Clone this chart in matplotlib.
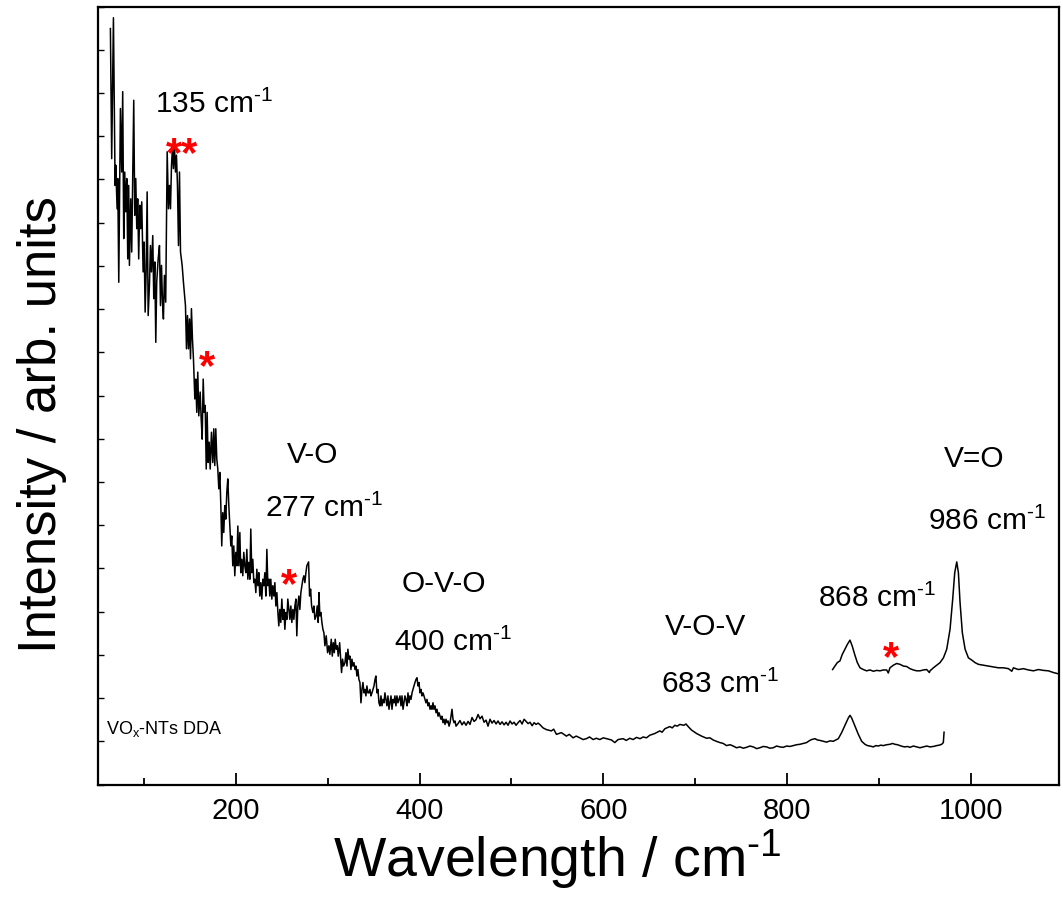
import numpy as np
import matplotlib
matplotlib.use("Agg")
import matplotlib.pyplot as plt
from matplotlib.ticker import MultipleLocator, NullFormatter

plt.rcParams['font.family'] = ['Liberation Sans', 'DejaVu Sans']
plt.rcParams['mathtext.fontset'] = 'custom'
plt.rcParams['mathtext.rm'] = 'Liberation Sans'
plt.rcParams['mathtext.it'] = 'Liberation Sans:italic'
plt.rcParams['mathtext.bf'] = 'Liberation Sans:bold'

# ---- data: (wavenumber cm^-1, intensity arb. units) ----
main_lowfreq = [
    (63.5, 1749), (64.9, 1448), (66.8, 1774), (68.6, 1386), (69.3, 1433), (70.8, 1332),
    (71.5, 1402), (72.6, 1162), (74.4, 1564), (75.8, 1417), (76.9, 1603), (78.0, 1263),
    (79.1, 1417), (80.2, 1325), (81.3, 1402), (82.4, 1216), (83.4, 1386), (84.2, 1201),
    (85.6, 1355), (86.7, 1232), (88.9, 1583), (90.0, 1317), (91.1, 1402), (92.2, 1286),
    (93.2, 1355), (94.3, 1216), (95.4, 1340), (96.5, 1286), (97.6, 1348), (99.1, 1186),
    (100.2, 1255), (101.3, 1093), (102.4, 1186), (103.5, 1371), (104.6, 1085), (106.0, 1155),
    (107.1, 1247), (108.2, 1186), (109.6, 1270), (110.7, 1124), (111.8, 1209), (112.9, 1023),
    (113.9, 1162), (115.5, 1216), (116.9, 1247), (118.0, 1108), (119.1, 1201), (120.2, 1116),
    (121.2, 1077), (122.3, 1178), (123.7, 1116), (125.3, 1464), (126.7, 1332), (127.8, 1386),
    (128.9, 1332), (130.0, 1433), (131.0, 1471), (132.1, 1425), (133.2, 1479), (134.3, 1417),
    (135.4, 1456), (136.5, 1386), (137.6, 1247), (138.7, 1417), (139.8, 1232), (141.6, 1201),
    (143.0, 1162), (145.2, 1108), (146.3, 1008), (147.4, 1085), (148.5, 1008), (149.6, 1077),
    (150.7, 985), (151.7, 1101), (152.8, 1031), (153.9, 985),
]
main_vo_region = [
    (155.4, 892), (156.4, 938), (157.5, 861), (158.6, 954), (159.7, 853), (161.2, 908),
    (162.3, 846), (163.4, 799), (164.5, 938), (165.6, 861), (166.7, 877), (167.8, 730),
    (168.8, 861), (169.9, 745), (171.0, 792), (172.1, 730), (173.5, 815), (174.9, 745),
    (176.0, 823), (177.1, 738), (178.2, 823), (179.3, 753), (180.4, 730), (181.5, 684),
    (182.6, 722), (183.7, 645), (184.7, 552), (185.8, 629), (186.9, 583), (188.0, 645),
    (189.1, 614), (190.2, 676), (191.3, 707), (192.4, 645), (193.5, 598), (194.6, 552),
    (195.6, 575), (196.7, 506), (197.8, 552), (198.9, 483), (200.0, 537), (201.1, 506),
    (202.2, 598), (203.3, 506), (204.4, 583), (205.4, 490), (206.5, 521), (207.6, 483),
    (208.7, 537), (209.8, 506), (210.9, 490), (212.0, 544), (213.1, 475), (214.2, 514),
    (215.3, 475), (216.3, 591), (217.4, 490), (218.5, 521), (219.6, 467), (220.7, 475),
    (221.8, 444), (222.9, 498), (224.0, 460), (225.1, 490), (226.1, 436), (227.2, 467),
    (228.3, 429), (229.4, 475), (230.5, 460), (231.6, 490), (232.7, 436), (233.8, 544),
    (234.9, 460), (236.0, 475), (237.0, 436), (238.1, 475), (239.2, 429), (240.3, 460),
    (241.4, 436), (242.5, 467), (243.6, 413), (244.7, 444), (245.8, 398), (246.8, 367),
    (247.9, 405), (249.0, 375), (250.1, 429), (251.2, 382), (252.3, 405), (253.4, 359),
    (254.5, 398), (255.6, 382), (256.6, 429), (257.7, 405), (258.8, 382), (259.9, 413),
    (261.0, 375), (262.1, 405), (263.2, 382), (264.3, 413), (265.4, 429), (266.4, 344),
    (267.5, 413), (268.6, 436), (269.7, 405), (270.8, 444), (271.9, 460), (273.0, 475),
    (274.1, 483), (275.2, 467), (276.3, 490), (277.3, 506),
]
main_ovo_region = [
    (279.2, 515), (280.3, 436), (281.4, 452), (282.5, 413), (283.9, 398), (285.0, 413),
    (286.1, 382), (287.5, 390), (288.6, 413), (289.7, 375), (290.5, 444), (291.5, 390),
    (292.6, 398), (293.7, 375), (294.8, 359), (295.9, 351), (297.0, 321), (298.4, 344),
    (299.9, 305), (301.3, 321), (302.4, 301), (303.9, 336), (305.0, 297), (306.1, 328),
    (307.2, 305), (308.2, 336), (309.3, 313), (310.4, 321), (311.5, 297), (313.0, 328),
    (314.1, 290), (315.1, 259), (316.2, 290), (317.3, 274), (318.8, 282), (319.9, 305),
    (321.0, 274), (322.0, 313), (323.1, 290), (324.2, 297), (325.3, 266), (326.4, 290),
    (327.5, 274), (328.6, 282), (329.7, 266), (330.8, 274), (331.8, 251), (332.9, 266),
    (334.0, 243), (335.1, 236), (336.2, 189), (337.3, 220), (338.4, 236), (339.5, 212),
    (340.6, 220), (341.6, 205), (342.7, 228), (343.8, 212), (344.9, 212), (346.0, 220),
    (347.1, 205), (348.2, 212), (349.3, 220), (350.4, 228), (351.5, 243), (352.5, 251),
    (353.6, 212), (354.7, 220), (355.8, 189), (356.9, 182), (358.0, 205), (359.1, 182),
    (360.2, 197), (361.3, 189), (362.3, 212), (363.4, 197), (364.5, 182), (365.6, 205),
    (366.7, 174), (367.8, 189), (368.9, 205), (370.0, 174), (371.1, 197), (372.2, 189),
    (373.2, 205), (374.3, 182), (375.4, 205), (376.5, 189), (377.6, 197), (378.7, 205),
    (379.8, 182), (380.9, 205), (382.0, 174), (383.0, 189), (384.1, 205), (385.2, 197),
    (386.3, 182), (387.4, 212), (388.5, 189), (389.6, 205), (390.7, 197), (391.8, 212),
    (392.8, 220), (393.9, 228), (395.0, 236), (396.1, 243), (397.2, 247), (398.3, 228),
    (399.4, 236), (400.5, 212), (401.6, 220), (402.6, 205), (403.7, 212), (404.8, 205),
    (405.9, 197), (407.0, 189), (408.1, 197), (409.2, 182), (410.3, 189), (411.4, 174),
    (412.5, 182), (413.5, 174), (414.6, 189), (415.7, 174), (416.8, 182), (417.9, 166),
    (419.0, 174), (420.1, 158), (421.2, 166), (422.3, 158), (423.3, 151), (424.4, 158),
    (425.5, 143), (426.6, 151), (427.7, 139), (428.8, 151), (429.9, 143), (431.0, 147),
    (432.1, 135), (433.2, 143), (434.2, 158), (435.3, 174), (436.4, 151), (437.5, 143),
    (438.6, 147), (439.7, 135), (441.9, 141), (444.0, 148), (446.2, 138), (448.4, 145),
    (450.6, 137), (452.8, 146), (454.9, 139), (457.1, 155), (459.3, 146), (461.5, 150),
    (463.7, 162), (465.8, 152), (468.0, 158), (470.2, 144), (472.4, 149), (474.5, 135),
    (476.7, 151), (478.9, 142), (481.1, 148), (483.3, 140), (485.4, 147), (487.6, 139),
    (489.8, 145), (492.0, 138), (494.2, 144), (496.3, 137), (498.5, 147), (500.7, 140),
    (502.9, 144), (505.0, 137), (507.2, 143), (509.4, 148), (511.6, 140), (513.8, 151),
    (515.9, 146), (518.1, 141), (520.3, 144), (522.5, 136), (524.7, 143), (526.8, 139),
    (529.0, 142),
]
main_highfreq = [
    (530.8, 139), (534.4, 131), (538.1, 127), (543.5, 124), (546.0, 128), (549.0, 116),
    (554.4, 120), (559.8, 112), (563.0, 116), (567.1, 108), (570.5, 112), (574.4, 108),
    (578.0, 104), (581.6, 106), (585.0, 110), (588.9, 104), (592.5, 107), (596.2, 104),
    (600.0, 108), (603.4, 106), (608.9, 103), (612.5, 97), (616.1, 104), (621.6, 106),
    (625.0, 102), (628.8, 107), (632.5, 104), (636.1, 109), (640.0, 106), (643.4, 110),
    (647.0, 108), (650.6, 114), (656.1, 118), (661.5, 124), (664.0, 121), (667.0, 129),
    (672.4, 134), (675.0, 131), (677.9, 137), (680.5, 135), (683.3, 139), (687.7, 137),
    (690.0, 140), (692.4, 134), (696.0, 126), (701.5, 118), (706.9, 112), (712.4, 107),
    (716.0, 108), (719.6, 103), (723.0, 100), (726.9, 97), (730.5, 95), (734.1, 90),
    (738.0, 92), (741.4, 89), (745.0, 85), (748.7, 87), (752.3, 84), (755.9, 86),
    (759.5, 89), (763.2, 87), (767.0, 83), (770.4, 85), (774.0, 88), (777.7, 87),
    (781.3, 84), (785.0, 85), (788.6, 89), (792.2, 87), (795.8, 86), (799.5, 89),
    (803.1, 88), (806.8, 90), (810.4, 92), (814.0, 93), (817.7, 95), (821.3, 97),
    (824.0, 101), (826.7, 104), (830.4, 106), (833.1, 103), (835.8, 102), (839.5, 100),
    (843.1, 98), (846.7, 101), (850.3, 100), (853.0, 103), (855.8, 106), (859.4, 120),
    (863.0, 137), (866.7, 154), (868.5, 160), (870.3, 154), (873.9, 135), (877.6, 116),
    (881.2, 100), (884.8, 93), (887.5, 90), (890.3, 89), (893.9, 87), (896.6, 90),
    (899.3, 89), (902.0, 91), (904.8, 90), (908.4, 92), (912.1, 93), (914.8, 95),
    (917.5, 93), (920.2, 92), (923.0, 90), (925.7, 88), (928.4, 87), (931.1, 88),
    (933.8, 86), (937.5, 89), (941.1, 87), (944.7, 85), (948.4, 87), (952.0, 89),
    (955.6, 87), (959.3, 88), (962.9, 90), (965.6, 91), (968.3, 93), (970.1, 97),
    (970.9, 121),
]
offset_trace = [
    (849.6, 266), (852.1, 274), (854.7, 282), (857.6, 286), (860.1, 301), (863.0, 313),
    (865.6, 324), (868.5, 334), (871.0, 320), (873.6, 301), (876.5, 282), (879.4, 270),
    (883.0, 266), (886.6, 263), (890.3, 265), (893.9, 262), (897.5, 264), (901.2, 263),
    (904.8, 265), (908.4, 265), (910.2, 258), (912.0, 270), (915.7, 276), (919.3, 280),
    (923.0, 278), (926.6, 274), (930.2, 273), (933.8, 268), (937.5, 265), (941.1, 263),
    (944.7, 263), (948.4, 265), (952.0, 266), (954.9, 259), (955.6, 263), (959.3, 270),
    (962.9, 276), (966.5, 282), (970.2, 293), (973.8, 313), (977.4, 359), (980.3, 429),
    (982.5, 490), (984.7, 515), (986.5, 490), (988.3, 421), (990.8, 351), (993.8, 313),
    (997.4, 293), (1001.0, 288), (1004.6, 282), (1008.3, 278), (1013.7, 276), (1019.2, 274),
    (1024.6, 272), (1030.1, 270), (1035.5, 270), (1041.0, 268), (1044.6, 262), (1046.4, 270),
    (1051.8, 266), (1057.3, 268), (1062.7, 265), (1068.2, 263), (1073.6, 266), (1079.1, 264),
    (1084.5, 263), (1090.0, 259), (1095.4, 256), (1099.1, 255),
]

# annotations: (text, x, y)
band_labels = [
    ("135 cm$^{\\text{-1}}$", 111.6, 1557),
    ("V-O", 255.2, 746),
    ("277 cm$^{\\text{-1}}$", 231.3, 621),
    ("O-V-O", 380.5, 447),
    ("400 cm$^{\\text{-1}}$", 371.8, 312),
    ("V-O-V", 667.0, 348),
    ("683 cm$^{\\text{-1}}$", 662.6, 213),
    ("868 cm$^{\\text{-1}}$", 833.6, 414),
    ("V=O", 971.0, 737),
    ("986 cm$^{\\text{-1}}$", 953.5, 591),
]
star_marks = [("**", 142.0, 1432), ("*", 168.1, 941), ("*", 257.4, 436), ("*", 913.2, 267)]
sample_label = ("VO$_\\mathregular{x}$-NTs DDA", 59.2, 120)

x_major_ticks = [200, 400, 600, 800, 1000]

# ---- figure ----
fig = plt.figure(figsize=(10.63, 9.2), dpi=100)
ax = fig.add_axes([98 / 1063, (920 - 785.5) / 920, (1059 - 98) / 1063, 778 / 920])

main = np.array(main_lowfreq + main_vo_region + main_ovo_region + main_highfreq)
upper = np.array(offset_trace)
ax.plot(main[:, 0], main[:, 1], color='black', lw=1.1)
ax.plot(upper[:, 0], upper[:, 1], color='black', lw=1.1)

ax.set_xlim(50, 1096)
ax.set_ylim(0, 1800)

ax.set_xticks(x_major_ticks)
ax.xaxis.set_minor_locator(MultipleLocator(100))
ax.set_yticks(np.arange(0, 1801, 100))
ax.yaxis.set_major_formatter(NullFormatter())
ax.tick_params(axis='x', which='major', direction='in', length=9, width=1.3,
               labelsize=21, pad=8, top=False)
ax.tick_params(axis='x', which='minor', direction='in', length=5, width=1.3, top=False)
ax.tick_params(axis='y', which='major', direction='in', length=4, width=1.0, right=False)
for sp in ax.spines.values():
    sp.set_linewidth(1.6)

for txt, x, y in band_labels:
    ax.text(x, y, txt, fontsize=21.5, ha='left', va='baseline', color='black')
for txt, x, y in star_marks:
    ax.text(x, y, txt, fontsize=30, fontweight='bold', ha='center', va='baseline',
            color='red')
ax.text(sample_label[1], sample_label[2], sample_label[0], fontsize=13,
        ha='left', va='baseline')

fig.text(557 / 1063, (920 - 877) / 920, "Wavelength / cm$^{\\text{-1}}$", fontsize=40,
         ha='center', va='baseline')
fig.text(56 / 1063, (920 - 425) / 920, "Intensity / arb. units", fontsize=38,
         rotation=90, rotation_mode='anchor', ha='center', va='baseline')

fig.savefig("out.png", dpi=100)
